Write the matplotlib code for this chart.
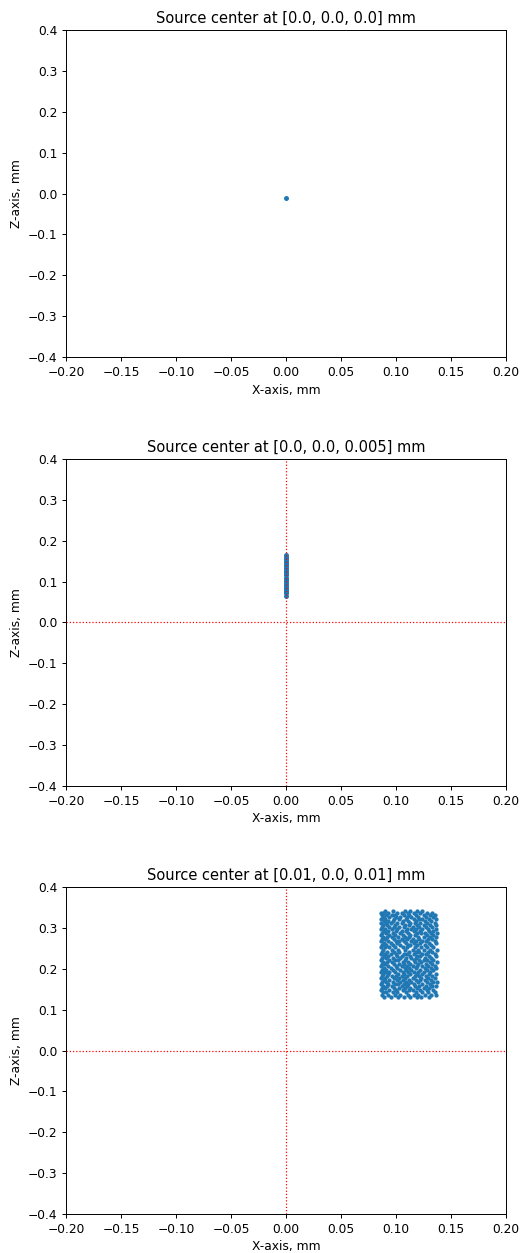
import matplotlib
matplotlib.use("Agg")
import matplotlib.pyplot as plt

# --- datos ---
titles = [
    "Source center at [0.0, 0.0, 0.0] mm",
    "Source center at [0.0, 0.0, 0.005] mm",
    "Source center at [0.01, 0.0, 0.01] mm",
]

# panel 1: una sola fuente puntual
p1_x = [0.0]
p1_z = [-0.01]

# panel 2: columna de puntos sobre x = 0
p2_z = [0.066, 0.071, 0.074, 0.079, 0.083, 0.088, 0.092, 0.097, 0.101, 0.106,
        0.110, 0.115, 0.119, 0.124, 0.128, 0.133, 0.137, 0.142, 0.146, 0.151,
        0.155, 0.160, 0.164]
p2_x = [0.0] * len(p2_z)

# panel 3: nube de puntos (filas en z, valores de x por fila)
p3_row_z = [0.341, 0.337, 0.332, 0.327, 0.322, 0.317, 0.312, 0.307, 0.302, 0.297,
            0.292, 0.287, 0.282, 0.277, 0.272, 0.267, 0.262, 0.257, 0.252, 0.247,
            0.242, 0.237, 0.232, 0.227, 0.222, 0.217, 0.212, 0.207, 0.202, 0.197,
            0.192, 0.187, 0.182, 0.177, 0.172, 0.167, 0.162, 0.157, 0.152, 0.147,
            0.142, 0.137, 0.132]
p3_row_x = [
    [0.090, 0.097, 0.108, 0.113, 0.119, 0.124],
    [0.086, 0.088, 0.093, 0.101, 0.105, 0.111, 0.116, 0.122, 0.128, 0.133],
    [0.087, 0.091, 0.096, 0.099, 0.107, 0.112, 0.118, 0.125, 0.131, 0.135],
    [0.088, 0.094, 0.100, 0.104, 0.110, 0.114, 0.120, 0.127, 0.134],
    [0.086, 0.090, 0.098, 0.103, 0.109, 0.116, 0.121, 0.124, 0.130, 0.136],
    [0.089, 0.093, 0.097, 0.106, 0.111, 0.118, 0.126, 0.132],
    [0.086, 0.091, 0.095, 0.101, 0.105, 0.113, 0.117, 0.122, 0.128, 0.135],
    [0.088, 0.092, 0.099, 0.108, 0.112, 0.119, 0.125, 0.131, 0.136],
    [0.087, 0.094, 0.098, 0.103, 0.107, 0.115, 0.121, 0.127, 0.133],
    [0.086, 0.090, 0.096, 0.101, 0.110, 0.114, 0.118, 0.124, 0.129, 0.136],
    [0.089, 0.093, 0.100, 0.105, 0.109, 0.116, 0.122, 0.130, 0.134],
    [0.087, 0.091, 0.097, 0.104, 0.111, 0.119, 0.123, 0.126, 0.132, 0.137],
    [0.086, 0.094, 0.099, 0.106, 0.113, 0.117, 0.128, 0.134],
    [0.088, 0.092, 0.096, 0.102, 0.108, 0.112, 0.120, 0.125, 0.131, 0.136],
    [0.087, 0.090, 0.098, 0.105, 0.110, 0.115, 0.121, 0.129, 0.133],
    [0.086, 0.093, 0.100, 0.103, 0.107, 0.114, 0.118, 0.124, 0.127, 0.135],
    [0.089, 0.095, 0.101, 0.109, 0.116, 0.122, 0.130, 0.136],
    [0.087, 0.091, 0.097, 0.104, 0.111, 0.113, 0.119, 0.126, 0.132],
    [0.086, 0.090, 0.094, 0.099, 0.106, 0.110, 0.117, 0.123, 0.128, 0.134],
    [0.088, 0.096, 0.102, 0.108, 0.115, 0.120, 0.125, 0.131, 0.137],
    [0.087, 0.092, 0.098, 0.103, 0.112, 0.118, 0.121, 0.129, 0.133],
    [0.086, 0.090, 0.095, 0.100, 0.107, 0.110, 0.116, 0.124, 0.127, 0.135],
    [0.089, 0.093, 0.101, 0.105, 0.113, 0.119, 0.122, 0.130, 0.136],
    [0.087, 0.091, 0.097, 0.104, 0.109, 0.114, 0.118, 0.126, 0.132],
    [0.086, 0.094, 0.099, 0.102, 0.108, 0.116, 0.121, 0.125, 0.128, 0.134],
    [0.088, 0.092, 0.096, 0.106, 0.111, 0.117, 0.123, 0.131, 0.137],
    [0.087, 0.090, 0.098, 0.103, 0.107, 0.113, 0.120, 0.127, 0.133],
    [0.086, 0.093, 0.100, 0.105, 0.110, 0.115, 0.119, 0.124, 0.129, 0.135],
    [0.089, 0.095, 0.101, 0.108, 0.112, 0.118, 0.126, 0.132, 0.136],
    [0.087, 0.091, 0.097, 0.104, 0.109, 0.114, 0.122, 0.128, 0.134],
    [0.086, 0.090, 0.094, 0.099, 0.106, 0.111, 0.116, 0.120, 0.125, 0.131],
    [0.088, 0.093, 0.102, 0.107, 0.113, 0.119, 0.124, 0.130, 0.136],
    [0.087, 0.092, 0.096, 0.100, 0.105, 0.110, 0.117, 0.121, 0.127, 0.133],
    [0.086, 0.090, 0.098, 0.103, 0.108, 0.115, 0.123, 0.129, 0.135],
    [0.089, 0.094, 0.101, 0.106, 0.112, 0.118, 0.122, 0.126, 0.132],
    [0.087, 0.091, 0.097, 0.104, 0.109, 0.114, 0.120, 0.128, 0.134, 0.137],
    [0.086, 0.093, 0.099, 0.102, 0.107, 0.111, 0.116, 0.124, 0.131],
    [0.088, 0.092, 0.096, 0.105, 0.110, 0.117, 0.121, 0.127, 0.133, 0.136],
    [0.087, 0.090, 0.098, 0.103, 0.108, 0.113, 0.119, 0.125, 0.130],
    [0.086, 0.094, 0.100, 0.106, 0.112, 0.115, 0.122, 0.128, 0.134],
    [0.088, 0.091, 0.097, 0.101, 0.109, 0.118, 0.124, 0.129, 0.135],
    [0.087, 0.093, 0.099, 0.104, 0.111, 0.116, 0.120, 0.126, 0.132, 0.136],
    [0.089, 0.095, 0.102, 0.107, 0.113, 0.119, 0.123, 0.130],
]
p3_x = [x for xs in p3_row_x for x in xs]
p3_z = [z for z, xs in zip(p3_row_z, p3_row_x) for _ in xs]

panels = [(p1_x, p1_z, False, 6), (p2_x, p2_z, True, 6), (p3_x, p3_z, True, 5)]
bottoms = [0.715, 0.3727, 0.0311]

# la figura original parece renderizada mas grande y reducida (~0.88)
fig = plt.figure(figsize=(522 / 88, 1253 / 88), dpi=88)

for (xs, zs, crosshair, ms), title, b in zip(panels, titles, bottoms):
    ax = fig.add_axes([0.1264, b, 0.843, 0.261])
    ax.plot(xs, zs, '.', color='tab:blue', markersize=ms)
    if crosshair:
        ax.axhline(0, color='red', linestyle=':', linewidth=1)
        ax.axvline(0, color='red', linestyle=':', linewidth=1)
    ax.set_xlim(-0.2, 0.2)
    ax.set_ylim(-0.4, 0.4)
    ax.set_title(title)
    ax.set_xlabel("X-axis, mm")
    ax.set_ylabel("Z-axis, mm")

fig.savefig("out.png", dpi=88)
